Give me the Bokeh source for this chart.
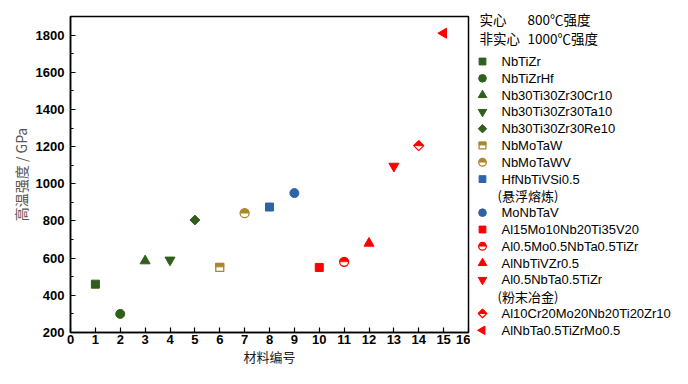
import math
from bokeh.plotting import figure
from bokeh.layouts import row, column
from bokeh.models import Range1d, SingleIntervalTicker
from bokeh.core.properties import value
from bokeh.embed import file_html
from bokeh.resources import INLINE

# ---------------- data ----------------
materials = ["NbTiZr", "NbTiZrHf", "Nb30Ti30Zr30Cr10", "Nb30Ti30Zr30Ta10",
             "Nb30Ti30Zr30Re10", "NbMoTaW", "NbMoTaWV", "HfNbTiVSi0.5",
             "MoNbTaV", "Al15Mo10Nb20Ti35V20", "Al0.5Mo0.5NbTa0.5TiZr",
             "AlNbTiVZr0.5", "Al0.5NbTa0.5TiZr", "Al10Cr20Mo20Nb20Ti20Zr10",
             "AlNbTa0.5TiZrMo0.5"]
material_no = [1, 2, 3, 4, 5, 6, 7, 8, 9, 10, 11, 12, 13, 14, 15]
strength = [460, 300, 585, 590, 805, 550, 842, 875, 950, 550, 580, 680, 1095, 1205, 1810]
marker_kind = ["square", "circle", "triangle", "inverted_triangle", "diamond",
               "half_square", "half_circle", "square", "circle", "square",
               "half_circle", "triangle", "inverted_triangle", "half_diamond",
               "left_triangle"]
GREEN = "#2F5F1A"
GOLD = "#A8882A"
BLUE = "#2E64A6"
RED = "#FF0000"
marker_color = [GREEN, GREEN, GREEN, GREEN, GREEN, GOLD, GOLD, BLUE, BLUE,
                RED, RED, RED, RED, RED, RED]
# notes shown in the legend after the given material index
legend_notes = {7: "(悬浮熔炼)", 12: "(粉末冶金)"}
header_left = ["实心", "非实心"]
header_right = ["800℃强度", "1000℃强度"]

x_ticks_interval = 1
y_ticks_interval = 200
X0, X1 = 0, 16
Y0, Y1 = 200, 1900

# ---------------- layout ----------------
ML, MT, MR, MB = 70, 16, 2, 36
W_MAIN = 470
H = 368
FW = W_MAIN - ML - MR
FH = H - MT - MB
W_LEG = 202

SANS = "Liberation Sans"
CJK = "Noto Sans CJK SC"


def draw_marker(fig, x, y, kind, color, sx, sy, k=1.0):
    """sx, sy: data units per screen pixel; k: size factor"""
    if kind in ("square", "circle", "triangle", "inverted_triangle"):
        size = {"square": 8, "circle": 9, "triangle": 10, "inverted_triangle": 10}[kind]
        fig.scatter([x], [y], marker=kind, size=size * k, fill_color=color, line_color=color)
    elif kind == "diamond":
        fig.scatter([x], [y], marker="square", size=7 * k, angle=math.pi / 4,
                    fill_color=color, line_color=color)
    elif kind == "left_triangle":
        fig.scatter([x], [y], marker="triangle", size=10 * k, angle=math.pi / 2,
                    fill_color=color, line_color=color)
    elif kind == "half_square":
        h = 4 * k
        fig.quad(left=[x - h * sx], right=[x + h * sx], bottom=[y - h * sy], top=[y + h * sy],
                 fill_color="white", line_color=color, line_width=1.3)
        fig.quad(left=[x - h * sx], right=[x + h * sx], bottom=[y + 0.6 * sy], top=[y + h * sy],
                 fill_color=color, line_color=color, line_width=1)
    elif kind == "half_circle":
        fig.scatter([x], [y], marker="circle", size=9 * k, fill_color="white",
                    line_color=color, line_width=1.3)
        fig.wedge([x], [y], radius=4.3 * k, radius_units="screen", start_angle=0,
                  end_angle=math.pi, fill_color=color, line_color=color, line_width=0.5)
    elif kind == "half_diamond":
        r = 5 * k
        fig.patch([x, x + r * sx, x, x - r * sx], [y + r * sy, y, y - r * sy, y],
                  fill_color="white", line_color=color, line_width=1.2)
        fig.patch([x - r * sx, x, x + r * sx], [y, y + r * sy, y],
                  fill_color=color, line_color=color, line_width=1)


# ---------------- main figure ----------------
p = figure(width=W_MAIN, height=H, output_backend="svg", toolbar_location=None,
           x_range=Range1d(X0, X1), y_range=Range1d(Y0, Y1),
           min_border_left=ML, min_border_top=MT, min_border_right=MR,
           min_border_bottom=MB)
p.background_fill_color = "white"
p.border_fill_color = "white"
p.outline_line_color = "black"
p.outline_line_width = 1.5
p.xgrid.visible = False
p.ygrid.visible = False

p.xaxis.ticker = SingleIntervalTicker(interval=x_ticks_interval, num_minor_ticks=0)
p.yaxis.ticker = SingleIntervalTicker(interval=y_ticks_interval, num_minor_ticks=2)
for ax in (p.xaxis[0], p.yaxis[0]):
    ax.axis_line_color = "black"
    ax.axis_line_width = 1.5
    ax.major_tick_in = 5
    ax.major_tick_out = 0
    ax.minor_tick_in = 3
    ax.minor_tick_out = 0
    ax.major_tick_line_color = "black"
    ax.minor_tick_line_color = "black"
    ax.major_tick_line_width = 1.2
    ax.major_label_text_font = SANS
    ax.major_label_text_font_style = "bold"
    ax.major_label_text_font_size = "13px"
    ax.major_label_text_color = "black"
    ax.axis_label_text_font = CJK
    ax.axis_label_text_font_style = "normal"
p.xaxis.major_label_standoff = 2
p.yaxis.major_label_standoff = 6
p.xaxis.axis_label = "材料编号"
p.xaxis.axis_label_standoff = 0
p.xaxis.axis_label_text_font_size = "13px"
p.xaxis.axis_label_text_color = "#222222"
p.yaxis.axis_label = "高温强度 / GPa"
p.yaxis.axis_label_standoff = 2
p.yaxis.axis_label_text_font_size = "14px"
p.yaxis.axis_label_text_color = "#555555"

sx_main = (X1 - X0) / FW
sy_main = (Y1 - Y0) / FH
for xi, yi, kd, c in zip(material_no, strength, marker_kind, marker_color):
    draw_marker(p, xi, yi, kd, c, sx_main, sy_main)

# ---------------- legend figure ----------------
lg = figure(width=W_LEG, height=H, output_backend="svg", toolbar_location=None,
            x_range=Range1d(0, W_LEG), y_range=Range1d(0, H),
            min_border=0)
lg.axis.visible = False
lg.xgrid.visible = False
lg.ygrid.visible = False
lg.outline_line_color = None
lg.background_fill_color = "white"
lg.border_fill_color = "white"


def ly(top):
    return H - top


head_top = 18
head_step = 19
for i, (a, b) in enumerate(zip(header_left, header_right)):
    yy = ly(head_top + i * head_step)
    lg.text([9], [yy], text=[a], text_font=value(CJK), text_font_size="13.5px",
            text_baseline="middle", text_align="left", text_color="black")
    lg.text([57], [yy], text=[b], text_font=value(CJK), text_font_size="13.5px",
            text_baseline="middle", text_align="left", text_color="black")

row_top = 61
row_step = 16.8
r = 0
for i, name in enumerate(materials):
    yy = ly(row_top + r * row_step)
    draw_marker(lg, 12, yy, marker_kind[i], marker_color[i], 1.0, 1.0, k=0.85)
    lg.text([31], [yy], text=[name], text_font=value(SANS), text_font_size="13px",
            text_baseline="middle", text_align="left", text_color="black")
    r += 1
    if i in legend_notes:
        yy = ly(row_top + r * row_step)
        lg.text([27], [yy], text=[legend_notes[i]], text_font=value(CJK),
                text_font_size="13px", text_baseline="middle", text_align="left",
                text_color="black")
        r += 1

layout = row(p, column(lg))
open("out.html", "w").write(file_html(layout, INLINE))
